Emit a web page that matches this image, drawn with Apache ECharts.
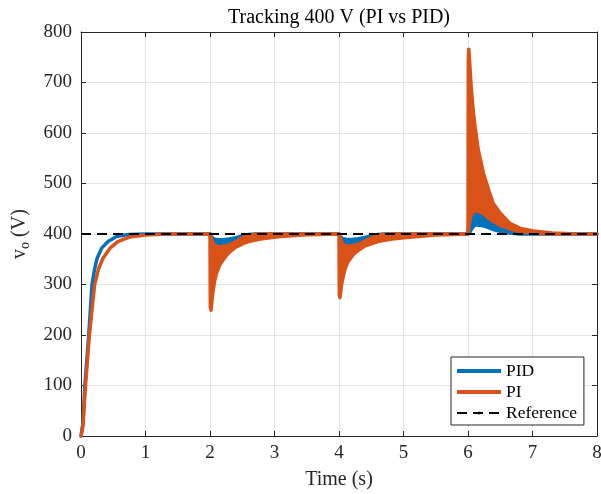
<!DOCTYPE html>
<html>
<head>
<meta charset="utf-8">
<script src="https://cdn.jsdelivr.net/npm/echarts@6/dist/echarts.min.js"></script>
<style>html,body{margin:0;padding:0;background:#fff}#c{width:601px;height:494px}</style>
</head>
<body>
<div id="c"></div>
<script>
// ---- data ----
const titleText = 'Tracking 400 V (PI vs PID)';
const xName = 'Time (s)';
const seriesNames = ['PID', 'PI', 'Reference'];
const referenceT = [0, 8];
const referenceV = [400, 400];

// PID (blue) band: time, lower envelope, upper envelope
const pidT    = [0, 0.03, 0.06, 0.12, 0.17, 0.21, 0.25, 0.32, 0.42, 0.55, 0.73, 1.0,
                 2.0, 2.02, 2.06, 2.12, 2.2, 2.3, 2.4, 2.5, 2.6, 2.7, 3.0,
                 4.0, 4.02, 4.06, 4.12, 4.2, 4.3, 4.4, 4.5, 4.6, 4.7, 5.0,
                 6.0, 6.02, 6.05, 6.09, 6.14, 6.2, 6.29, 6.37, 6.45, 6.55, 6.65, 6.8, 7.0, 7.5, 8.0];
const pidLow  = [0, 25, 100, 200, 299, 330, 352, 372, 385, 395, 399, 400,
                 400, 388, 378, 374, 374, 377, 382, 388, 394, 398, 400,
                 400, 389, 379, 375, 375, 378, 383, 389, 395, 398, 400,
                 400, 401, 409, 416, 418, 417, 414, 410, 407, 404, 402, 400, 400, 400, 400];
const pidHigh = [0, 25, 100, 200, 299, 330, 352, 372, 385, 395, 399, 400,
                 400, 395, 390, 388.5, 388.5, 390, 392.5, 396, 399, 400, 400,
                 400, 395, 390.5, 389, 389, 390.5, 393, 396, 399, 400, 400,
                 400, 425, 440, 448, 450, 448, 440, 432, 425, 418, 412, 407, 402, 400, 400];

// PI (orange) band: time, lower envelope, upper envelope
const piT    = [0, 0.03, 0.07, 0.13, 0.21, 0.27, 0.34, 0.45, 0.57, 0.75, 1.0, 1.3,
                2.0, 2.005, 2.015, 2.04, 2.07, 2.1, 2.15, 2.25, 2.31, 2.4, 2.51, 2.6, 2.78, 3.09, 3.5,
                4.0, 4.005, 4.015, 4.04, 4.07, 4.1, 4.14, 4.22, 4.30, 4.4, 4.51, 4.6, 4.82, 5.13, 5.5,
                6.0, 6.005, 6.012, 6.03, 6.05, 6.08, 6.11, 6.16, 6.24, 6.32, 6.39, 6.50, 6.65, 6.81, 7.01, 7.3, 7.6, 8.0];
const piLow  = [0, 20, 100, 200, 299, 330, 352, 372, 385, 394, 398, 400,
                400, 255, 249, 280, 306, 322, 339, 357, 365, 374, 381, 385, 390, 395, 398.5,
                400, 280, 274, 300, 319, 333, 345, 359, 368, 376, 381, 385, 390, 394, 398,
                400, 403, 410, 428, 437, 443, 445, 445, 440, 431, 425, 417, 410, 405, 402, 400, 400, 400];
const piHigh = [0, 20, 100, 200, 299, 330, 352, 372, 385, 394, 398, 400,
                400, 400, 395, 384, 378, 376, 375, 377, 379, 385, 393, 398, 400, 400, 400,
                400, 400, 395, 385, 379, 377, 376, 377, 380, 386, 393, 398, 400, 400, 400,
                400, 745, 766, 731, 690, 645, 612, 566, 520, 487, 461, 441, 421, 411, 406, 402, 400.5, 400];

const C_PID = '#0072BD';
const C_PI = '#D95319';
const AX = '#262626';
const FONT = '"Liberation Serif", "Times New Roman", serif';

function band(T, L, H, color) {
  return function (params, api) {
    const pts = [];
    for (let i = 0; i < T.length; i++) pts.push(api.coord([T[i], H[i]]));
    for (let i = T.length - 1; i >= 0; i--) pts.push(api.coord([T[i], L[i]]));
    return {
      type: 'polygon',
      shape: { points: pts },
      style: { fill: color, stroke: color, lineWidth: 3.5, lineJoin: 'round' }
    };
  };
}

const chart = echarts.init(document.getElementById('c'), null, { renderer: 'canvas' });
const axisCommon = {
  axisLine: { show: true, onZero: false, lineStyle: { color: AX, width: 1 } },
  axisTick: { show: true, inside: true, length: 5, lineStyle: { color: AX } }
};
chart.setOption({
  animation: false,
  backgroundColor: '#fff',
  title: {
    text: titleText, left: 339, top: 8, padding: 0, textAlign: 'center',
    textStyle: { fontFamily: FONT, fontSize: 20, fontWeight: 'normal', color: '#000' }
  },
  grid: { left: 81, right: 4, top: 32, bottom: 58, containLabel: false, outerBoundsMode: 'none' },
  legend: {
    orient: 'vertical', left: 451, top: 357, align: 'left',
    backgroundColor: '#fff', borderColor: AX, borderWidth: 1, borderRadius: 0,
    padding: [5, 7, 3, 5], itemGap: 3, itemWidth: 44, itemHeight: 4,
    textStyle: { fontFamily: FONT, fontSize: 17.5, color: '#000', lineHeight: 17 },
    selectedMode: false,
    data: [
      { name: seriesNames[0], icon: 'rect' },
      { name: seriesNames[1], icon: 'rect' },
      { name: seriesNames[2] }
    ]
  },
  xAxis: [
    Object.assign({
      type: 'value', min: 0, max: 8, interval: 1, position: 'bottom',
      name: xName, nameLocation: 'middle', nameGap: 34,
      nameTextStyle: { fontFamily: FONT, fontSize: 20, color: AX },
      axisLabel: { fontFamily: FONT, fontSize: 19, color: AX, margin: 8 },
      splitLine: { show: true, lineStyle: { color: '#e3e3e3', width: 1 } }
    }, axisCommon),
    Object.assign({
      type: 'value', min: 0, max: 8, interval: 1, position: 'top',
      axisLabel: { show: false }, splitLine: { show: false }
    }, axisCommon)
  ],
  yAxis: [
    Object.assign({
      type: 'value', min: 0, max: 800, interval: 100, position: 'left',
      name: '{v|v}{o|o}{v| (V)}', nameLocation: 'middle', nameGap: 48, nameRotate: 90,
      nameTextStyle: {
        fontFamily: FONT, color: AX,
        rich: {
          v: { fontFamily: FONT, fontSize: 20, color: AX },
          o: { fontFamily: FONT, fontSize: 14, color: AX, padding: [12, 0, 0, 0] }
        }
      },
      axisLabel: { fontFamily: FONT, fontSize: 19, color: AX, margin: 9 },
      splitLine: { show: true, lineStyle: { color: '#e3e3e3', width: 1 } }
    }, axisCommon),
    Object.assign({
      type: 'value', min: 0, max: 800, interval: 100, position: 'right',
      axisLabel: { show: false }, splitLine: { show: false }
    }, axisCommon)
  ],
  series: [
    {
      name: seriesNames[0], type: 'custom', xAxisIndex: 0, yAxisIndex: 0,
      itemStyle: { color: C_PID }, data: [[0, 0]], encode: { x: 0, y: 1 },
      renderItem: band(pidT, pidLow, pidHigh, C_PID), z: 2
    },
    {
      name: seriesNames[1], type: 'custom', xAxisIndex: 0, yAxisIndex: 0,
      itemStyle: { color: C_PI }, data: [[0, 0]], encode: { x: 0, y: 1 },
      renderItem: band(piT, piLow, piHigh, C_PI), z: 3
    },
    {
      name: seriesNames[2], type: 'line', xAxisIndex: 0, yAxisIndex: 0,
      symbol: 'none', z: 4,
      data: referenceT.map((t, i) => [t, referenceV[i]]),
      lineStyle: { color: '#000', width: 2.2, type: [10, 6] },
      itemStyle: { color: '#000' }
    }
  ]
});
</script>
</body>
</html>
